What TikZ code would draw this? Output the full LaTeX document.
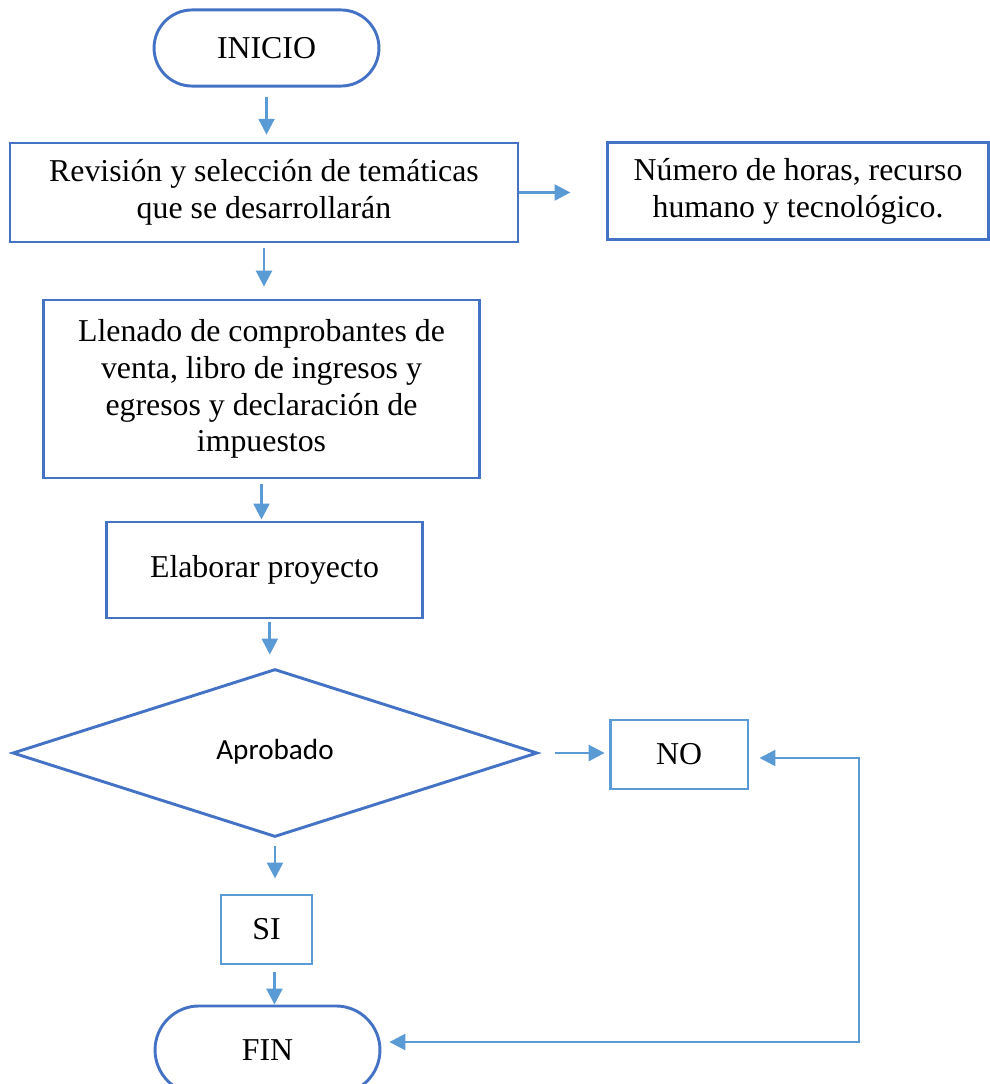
\documentclass[tikz,border=0pt]{standalone}
\usepackage{fontspec}
\setmainfont{Liberation Serif}
\newfontfamily\calibri{Carlito}
\usepackage{tikz}
\usetikzlibrary{arrows.meta,positioning,calc,shapes.geometric,shapes.misc}

\definecolor{darkblue}{HTML}{4472C4}
\definecolor{lightblue}{HTML}{5B9BD5}

\begin{document}
\begin{tikzpicture}[
  x=0.377pt, y=-0.377pt,
  term/.style={rounded rectangle, draw=darkblue, line width=1.1pt, inner sep=0pt, font=\fontsize{12}{13.9}\selectfont},
  proc/.style={rectangle, draw=darkblue, line width=1.1pt, inner sep=2pt, align=center, font=\fontsize{12}{13.9}\selectfont},
  answer/.style={proc, draw=lightblue},
  decision/.style={diamond, draw=darkblue, line width=1.1pt, inner sep=0pt, font=\calibri\fontsize{11}{13}\selectfont},
  flow/.style={draw=lightblue, line width=1pt, -{Triangle[length=6pt, width=6pt]}}
]
\useasboundingbox (0,0) rectangle (990,1084);
\clip (0,0) rectangle (990,1084);

% Start and first steps
\node[term, minimum width=84.8pt, minimum height=28.7pt] (inicio) at (266.5,48) {INICIO};
\node[proc, minimum width=191.5pt, minimum height=37.3pt] (rev) at (264,192.5)
  {Revisión y selección de temáticas\\que se desarrollarán};
\node[proc, minimum width=143.3pt, minimum height=36.9pt] (horas) at (798,191)
  {Número de horas, recurso\\humano y tecnológico.};
\node[proc, minimum width=164.7pt, minimum height=67.1pt] (llenado) at (261.5,389)
  {Llenado de comprobantes de\\venta, libro de ingresos y\\egresos y declaración de\\impuestos};
\node[proc, minimum width=118.8pt, minimum height=36.2pt] (elab) at (264.5,570) {Elaborar proyecto};

% Decision and answers
\node[decision, minimum width=197.9pt, minimum height=63.3pt] (aprob) at (275,753) {\raisebox{3pt}{Aprobado}};
\node[answer, minimum width=52pt, minimum height=26pt] (no) at (679,754.5) {NO};
\node[answer, minimum width=34.3pt, minimum height=26pt] (si) at (266.5,929.5) {SI};
\node[term, minimum width=84.8pt, minimum height=33.2pt] (fin) at (267.5,1050) {FIN};

% Arrows
\draw[flow, shorten <=3.4pt, shorten >=2.6pt] (inicio.south) -- (inicio.south |- rev.north);
\draw[flow, shorten >=13.6pt] (rev.east) -- (rev.east -| horas.west);
\draw[flow, shorten <=1.9pt, shorten >=4.5pt] (rev.south) -- (rev.south |- llenado.north);
\draw[flow, shorten <=1.9pt, shorten >=0.4pt] (llenado.south) -- (llenado.south |- elab.north);
\draw[flow, shorten <=0.8pt, shorten >=4.9pt] ([xshift=2pt]elab.south) -- ([xshift=2pt]elab.south |- aprob.north);
\draw[flow, shorten <=6pt, shorten >=1.5pt] (aprob.east) -- (aprob.east -| no.west);
\draw[flow, shorten <=3pt, shorten >=5.7pt] (aprob.south) -- (aprob.south |- si.north);
\draw[flow, shorten <=2.6pt] ([xshift=3pt]si.south) -- ([xshift=3pt]si.south |- fin.north);

% Loop back from NO to FIN
\coordinate (turnno) at (859,758);
\coordinate (turnfin) at (859,1042);
\draw[flow, {Triangle[length=6pt, width=6pt]}-{Triangle[length=6pt, width=6pt]}, shorten <=3.8pt, shorten >=3pt]
  (turnno -| no.east) -- (turnno) -- (turnfin) -- (turnfin -| fin.east);

\end{tikzpicture}
\end{document}
